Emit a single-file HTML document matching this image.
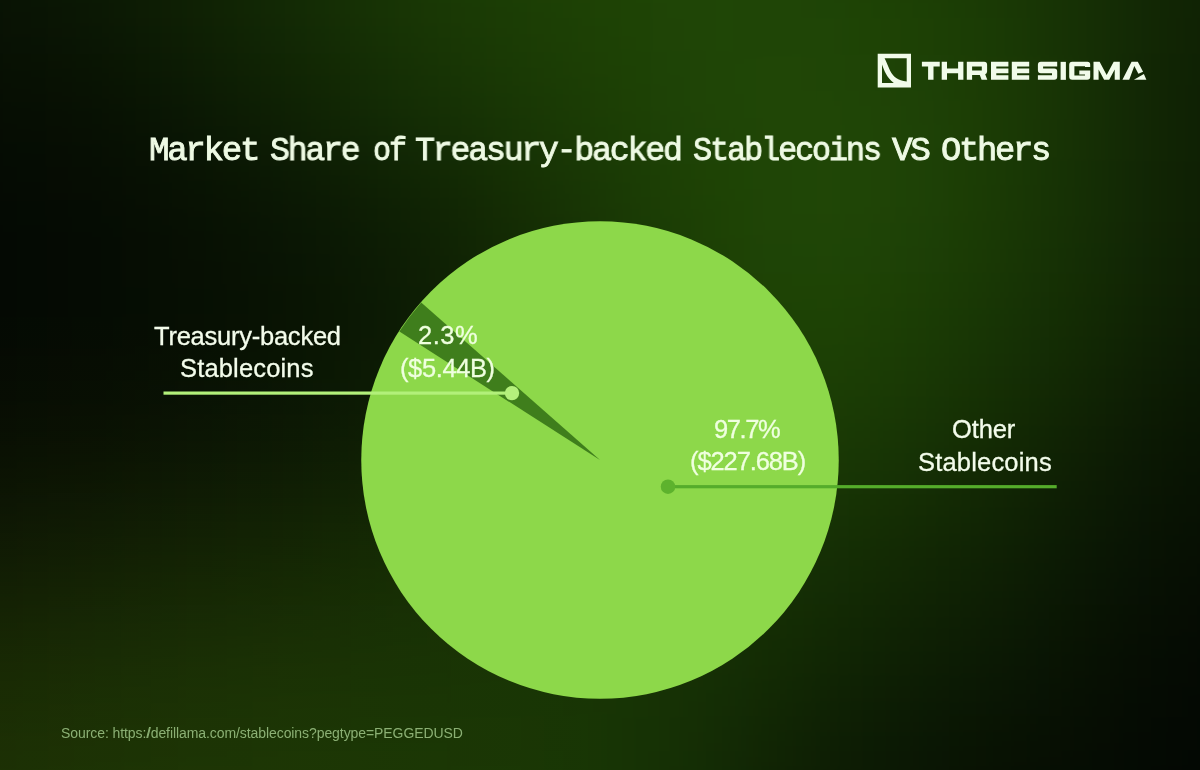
<!DOCTYPE html>
<html><head><meta charset="utf-8">
<style>
html,body{margin:0;padding:0;}
body{width:1200px;height:770px;overflow:hidden;position:relative;background:#050c05;font-family:"Liberation Sans",sans-serif;}
#bg{position:absolute;left:0;top:0;width:1200px;height:770px;background:#040804;}
#olive{position:absolute;left:0;top:0;width:1200px;height:770px;background:radial-gradient(ellipse 620px 460px at 0px 770px, rgba(70,34,0,0.13) 0%, rgba(70,34,0,0.08) 50%, rgba(70,34,0,0) 100%);}
svg{position:absolute;left:0;top:0;}
.t{position:absolute;white-space:nowrap;will-change:transform;}
.tw{top:128.7px;font-family:"Liberation Mono",monospace;font-size:33.8px;line-height:44px;color:#eefae4;transform-origin:0 0;font-weight:normal;-webkit-text-stroke:0.9px #eefae4;letter-spacing:-2.3px;}
.lab{font-size:25.5px;line-height:32.6px;color:#f3fceb;-webkit-text-stroke:0.3px #f3fceb;}
.val{font-size:25.5px;line-height:32.6px;color:#efffdf;-webkit-text-stroke:0.3px #efffdf;}
#src{left:61px;top:724.1px;font-size:14px;line-height:18px;color:#8bb074;letter-spacing:-0.08px;}
</style></head><body>
<div id="bg"></div>
<svg id="bgsvg" width="1200" height="770" viewBox="0 0 1200 770" style="position:absolute;left:0;top:0"><defs><filter id="bl" x="-20%" y="-20%" width="140%" height="140%" color-interpolation-filters="sRGB"><feGaussianBlur stdDeviation="50 55"/></filter></defs><g filter="url(#bl)"><rect x="-450.5" y="-465.5" width="401" height="411" fill="rgb(9,19,4)"/><rect x="-50.5" y="-465.5" width="101" height="411" fill="rgb(9,19,4)"/><rect x="49.5" y="-465.5" width="101" height="411" fill="rgb(12,26,4)"/><rect x="149.5" y="-465.5" width="101" height="411" fill="rgb(16,35,4)"/><rect x="249.5" y="-465.5" width="101" height="411" fill="rgb(20,45,5)"/><rect x="349.5" y="-465.5" width="101" height="411" fill="rgb(25,55,5)"/><rect x="449.5" y="-465.5" width="101" height="411" fill="rgb(28,62,5)"/><rect x="549.5" y="-465.5" width="101" height="411" fill="rgb(30,67,5)"/><rect x="649.5" y="-465.5" width="101" height="411" fill="rgb(31,70,6)"/><rect x="749.5" y="-465.5" width="101" height="411" fill="rgb(31,69,6)"/><rect x="849.5" y="-465.5" width="101" height="411" fill="rgb(29,65,5)"/><rect x="949.5" y="-465.5" width="101" height="411" fill="rgb(26,58,5)"/><rect x="1049.5" y="-465.5" width="101" height="411" fill="rgb(21,46,5)"/><rect x="1149.5" y="-465.5" width="101" height="411" fill="rgb(15,33,4)"/><rect x="1249.5" y="-465.5" width="401" height="411" fill="rgb(15,33,4)"/><rect x="-450.5" y="-55.5" width="401" height="111" fill="rgb(9,19,4)"/><rect x="-50.5" y="-55.5" width="101" height="111" fill="rgb(9,19,4)"/><rect x="49.5" y="-55.5" width="101" height="111" fill="rgb(12,26,4)"/><rect x="149.5" y="-55.5" width="101" height="111" fill="rgb(16,35,4)"/><rect x="249.5" y="-55.5" width="101" height="111" fill="rgb(20,45,5)"/><rect x="349.5" y="-55.5" width="101" height="111" fill="rgb(25,55,5)"/><rect x="449.5" y="-55.5" width="101" height="111" fill="rgb(28,62,5)"/><rect x="549.5" y="-55.5" width="101" height="111" fill="rgb(30,67,5)"/><rect x="649.5" y="-55.5" width="101" height="111" fill="rgb(31,70,6)"/><rect x="749.5" y="-55.5" width="101" height="111" fill="rgb(31,69,6)"/><rect x="849.5" y="-55.5" width="101" height="111" fill="rgb(29,65,5)"/><rect x="949.5" y="-55.5" width="101" height="111" fill="rgb(26,58,5)"/><rect x="1049.5" y="-55.5" width="101" height="111" fill="rgb(21,46,5)"/><rect x="1149.5" y="-55.5" width="101" height="111" fill="rgb(15,33,4)"/><rect x="1249.5" y="-55.5" width="401" height="111" fill="rgb(15,33,4)"/><rect x="-450.5" y="54.5" width="401" height="111" fill="rgb(6,13,3)"/><rect x="-50.5" y="54.5" width="101" height="111" fill="rgb(6,13,3)"/><rect x="49.5" y="54.5" width="101" height="111" fill="rgb(7,16,3)"/><rect x="149.5" y="54.5" width="101" height="111" fill="rgb(11,25,4)"/><rect x="249.5" y="54.5" width="101" height="111" fill="rgb(15,34,4)"/><rect x="349.5" y="54.5" width="101" height="111" fill="rgb(20,45,5)"/><rect x="449.5" y="54.5" width="101" height="111" fill="rgb(24,54,5)"/><rect x="549.5" y="54.5" width="101" height="111" fill="rgb(28,62,5)"/><rect x="649.5" y="54.5" width="101" height="111" fill="rgb(31,69,6)"/><rect x="749.5" y="54.5" width="101" height="111" fill="rgb(32,71,6)"/><rect x="849.5" y="54.5" width="101" height="111" fill="rgb(31,68,6)"/><rect x="949.5" y="54.5" width="101" height="111" fill="rgb(27,60,5)"/><rect x="1049.5" y="54.5" width="101" height="111" fill="rgb(21,46,5)"/><rect x="1149.5" y="54.5" width="101" height="111" fill="rgb(14,31,4)"/><rect x="1249.5" y="54.5" width="401" height="111" fill="rgb(14,31,4)"/><rect x="-450.5" y="164.5" width="401" height="111" fill="rgb(4,9,3)"/><rect x="-50.5" y="164.5" width="101" height="111" fill="rgb(4,9,3)"/><rect x="49.5" y="164.5" width="101" height="111" fill="rgb(5,11,3)"/><rect x="149.5" y="164.5" width="101" height="111" fill="rgb(7,16,3)"/><rect x="249.5" y="164.5" width="101" height="111" fill="rgb(10,22,4)"/><rect x="349.5" y="164.5" width="101" height="111" fill="rgb(13,30,4)"/><rect x="449.5" y="164.5" width="101" height="111" fill="rgb(19,41,4)"/><rect x="549.5" y="164.5" width="101" height="111" fill="rgb(24,54,5)"/><rect x="649.5" y="164.5" width="101" height="111" fill="rgb(29,65,5)"/><rect x="749.5" y="164.5" width="101" height="111" fill="rgb(32,71,6)"/><rect x="849.5" y="164.5" width="101" height="111" fill="rgb(31,68,6)"/><rect x="949.5" y="164.5" width="101" height="111" fill="rgb(26,58,5)"/><rect x="1049.5" y="164.5" width="101" height="111" fill="rgb(20,45,5)"/><rect x="1149.5" y="164.5" width="101" height="111" fill="rgb(14,30,4)"/><rect x="1249.5" y="164.5" width="401" height="111" fill="rgb(14,30,4)"/><rect x="-450.5" y="274.5" width="401" height="111" fill="rgb(4,9,3)"/><rect x="-50.5" y="274.5" width="101" height="111" fill="rgb(4,9,3)"/><rect x="49.5" y="274.5" width="101" height="111" fill="rgb(5,11,3)"/><rect x="149.5" y="274.5" width="101" height="111" fill="rgb(6,14,3)"/><rect x="249.5" y="274.5" width="101" height="111" fill="rgb(8,19,3)"/><rect x="349.5" y="274.5" width="101" height="111" fill="rgb(12,26,4)"/><rect x="449.5" y="274.5" width="101" height="111" fill="rgb(17,38,4)"/><rect x="549.5" y="274.5" width="101" height="111" fill="rgb(24,53,5)"/><rect x="649.5" y="274.5" width="101" height="111" fill="rgb(28,62,5)"/><rect x="749.5" y="274.5" width="101" height="111" fill="rgb(30,68,5)"/><rect x="849.5" y="274.5" width="101" height="111" fill="rgb(28,63,5)"/><rect x="949.5" y="274.5" width="101" height="111" fill="rgb(23,52,5)"/><rect x="1049.5" y="274.5" width="101" height="111" fill="rgb(18,41,4)"/><rect x="1149.5" y="274.5" width="101" height="111" fill="rgb(12,26,4)"/><rect x="1249.5" y="274.5" width="401" height="111" fill="rgb(12,26,4)"/><rect x="-450.5" y="384.5" width="401" height="111" fill="rgb(6,14,3)"/><rect x="-50.5" y="384.5" width="101" height="111" fill="rgb(6,14,3)"/><rect x="49.5" y="384.5" width="101" height="111" fill="rgb(7,16,3)"/><rect x="149.5" y="384.5" width="101" height="111" fill="rgb(9,20,4)"/><rect x="249.5" y="384.5" width="101" height="111" fill="rgb(11,24,4)"/><rect x="349.5" y="384.5" width="101" height="111" fill="rgb(14,30,4)"/><rect x="449.5" y="384.5" width="101" height="111" fill="rgb(19,42,4)"/><rect x="549.5" y="384.5" width="101" height="111" fill="rgb(24,54,5)"/><rect x="649.5" y="384.5" width="101" height="111" fill="rgb(27,60,5)"/><rect x="749.5" y="384.5" width="101" height="111" fill="rgb(27,60,5)"/><rect x="849.5" y="384.5" width="101" height="111" fill="rgb(24,54,5)"/><rect x="949.5" y="384.5" width="101" height="111" fill="rgb(19,42,4)"/><rect x="1049.5" y="384.5" width="101" height="111" fill="rgb(14,30,4)"/><rect x="1149.5" y="384.5" width="101" height="111" fill="rgb(8,19,3)"/><rect x="1249.5" y="384.5" width="401" height="111" fill="rgb(8,19,3)"/><rect x="-450.5" y="494.5" width="401" height="111" fill="rgb(11,25,4)"/><rect x="-50.5" y="494.5" width="101" height="111" fill="rgb(11,25,4)"/><rect x="49.5" y="494.5" width="101" height="111" fill="rgb(13,30,4)"/><rect x="149.5" y="494.5" width="101" height="111" fill="rgb(15,34,4)"/><rect x="249.5" y="494.5" width="101" height="111" fill="rgb(17,38,4)"/><rect x="349.5" y="494.5" width="101" height="111" fill="rgb(20,44,4)"/><rect x="449.5" y="494.5" width="101" height="111" fill="rgb(22,49,5)"/><rect x="549.5" y="494.5" width="101" height="111" fill="rgb(24,54,5)"/><rect x="649.5" y="494.5" width="101" height="111" fill="rgb(24,54,5)"/><rect x="749.5" y="494.5" width="101" height="111" fill="rgb(22,49,5)"/><rect x="849.5" y="494.5" width="101" height="111" fill="rgb(19,42,4)"/><rect x="949.5" y="494.5" width="101" height="111" fill="rgb(15,33,4)"/><rect x="1049.5" y="494.5" width="101" height="111" fill="rgb(10,23,4)"/><rect x="1149.5" y="494.5" width="101" height="111" fill="rgb(6,14,3)"/><rect x="1249.5" y="494.5" width="401" height="111" fill="rgb(6,14,3)"/><rect x="-450.5" y="604.5" width="401" height="111" fill="rgb(19,41,4)"/><rect x="-50.5" y="604.5" width="101" height="111" fill="rgb(19,41,4)"/><rect x="49.5" y="604.5" width="101" height="111" fill="rgb(20,46,5)"/><rect x="149.5" y="604.5" width="101" height="111" fill="rgb(22,49,5)"/><rect x="249.5" y="604.5" width="101" height="111" fill="rgb(23,51,5)"/><rect x="349.5" y="604.5" width="101" height="111" fill="rgb(23,52,5)"/><rect x="449.5" y="604.5" width="101" height="111" fill="rgb(24,53,5)"/><rect x="549.5" y="604.5" width="101" height="111" fill="rgb(24,53,5)"/><rect x="649.5" y="604.5" width="101" height="111" fill="rgb(22,49,5)"/><rect x="749.5" y="604.5" width="101" height="111" fill="rgb(18,41,4)"/><rect x="849.5" y="604.5" width="101" height="111" fill="rgb(14,32,4)"/><rect x="949.5" y="604.5" width="101" height="111" fill="rgb(11,25,4)"/><rect x="1049.5" y="604.5" width="101" height="111" fill="rgb(7,16,3)"/><rect x="1149.5" y="604.5" width="101" height="111" fill="rgb(4,9,3)"/><rect x="1249.5" y="604.5" width="401" height="111" fill="rgb(4,9,3)"/><rect x="-450.5" y="714.5" width="401" height="111" fill="rgb(23,52,5)"/><rect x="-50.5" y="714.5" width="101" height="111" fill="rgb(23,52,5)"/><rect x="49.5" y="714.5" width="101" height="111" fill="rgb(24,54,5)"/><rect x="149.5" y="714.5" width="101" height="111" fill="rgb(25,56,5)"/><rect x="249.5" y="714.5" width="101" height="111" fill="rgb(25,57,5)"/><rect x="349.5" y="714.5" width="101" height="111" fill="rgb(25,57,5)"/><rect x="449.5" y="714.5" width="101" height="111" fill="rgb(25,56,5)"/><rect x="549.5" y="714.5" width="101" height="111" fill="rgb(24,54,5)"/><rect x="649.5" y="714.5" width="101" height="111" fill="rgb(20,45,5)"/><rect x="749.5" y="714.5" width="101" height="111" fill="rgb(14,31,4)"/><rect x="849.5" y="714.5" width="101" height="111" fill="rgb(10,22,4)"/><rect x="949.5" y="714.5" width="101" height="111" fill="rgb(7,16,3)"/><rect x="1049.5" y="714.5" width="101" height="111" fill="rgb(5,11,3)"/><rect x="1149.5" y="714.5" width="101" height="111" fill="rgb(3,7,3)"/><rect x="1249.5" y="714.5" width="401" height="111" fill="rgb(3,7,3)"/><rect x="-450.5" y="824.5" width="401" height="411" fill="rgb(23,52,5)"/><rect x="-50.5" y="824.5" width="101" height="411" fill="rgb(23,52,5)"/><rect x="49.5" y="824.5" width="101" height="411" fill="rgb(24,54,5)"/><rect x="149.5" y="824.5" width="101" height="411" fill="rgb(25,56,5)"/><rect x="249.5" y="824.5" width="101" height="411" fill="rgb(25,57,5)"/><rect x="349.5" y="824.5" width="101" height="411" fill="rgb(25,57,5)"/><rect x="449.5" y="824.5" width="101" height="411" fill="rgb(25,56,5)"/><rect x="549.5" y="824.5" width="101" height="411" fill="rgb(24,54,5)"/><rect x="649.5" y="824.5" width="101" height="411" fill="rgb(20,45,5)"/><rect x="749.5" y="824.5" width="101" height="411" fill="rgb(14,31,4)"/><rect x="849.5" y="824.5" width="101" height="411" fill="rgb(10,22,4)"/><rect x="949.5" y="824.5" width="101" height="411" fill="rgb(7,16,3)"/><rect x="1049.5" y="824.5" width="101" height="411" fill="rgb(5,11,3)"/><rect x="1149.5" y="824.5" width="101" height="411" fill="rgb(3,7,3)"/><rect x="1249.5" y="824.5" width="401" height="411" fill="rgb(3,7,3)"/></g></svg>
<div id="olive"></div>
<svg width="1200" height="770" viewBox="0 0 1200 770">
<g id="logo" fill="#f1fbea">
<path fill-rule="evenodd" d="M877.7 53.8 H911 V87.4 H877.7 Z M884.6 58.2 H906.7 V81.5 C898 80.6 893 77 889.8 70 C888 66 886.4 61.8 884.6 58.2 Z M882 64.6 C884.2 70.5 886.5 77.5 893.8 83 H882 Z"/>
<path d="M921.9 61.85 H939.75 V66.5 H933.5 V79.85 H928.1 V66.5 H921.9 Z"/>
<path d="M941.7 61.85 H947 V68.5 H958.1 V61.85 H963.4 V79.85 H958.1 V73.2 H947 V79.85 H941.7 Z"/>
<path fill-rule="evenodd" d="M966.8 61.85 H984.1 Q987.1 61.85 987.1 64.85 V71.4 Q987.1 73.6 985.2 74.3 L987.3 79.85 H981.6 L979.8 74.9 H972.1 V79.85 H966.8 Z M972.1 66.4 H981.8 V70.6 H972.1 Z"/>
<path d="M991 61.85 H1008.4 V66.5 H996.3 V68.5 H1008.4 V73.2 H996.3 V75.2 H1008.4 V79.85 H991 Z"/>
<path d="M1011.8 61.85 H1029.2 V66.5 H1017.1 V68.5 H1029.2 V73.2 H1017.1 V75.2 H1029.2 V79.85 H1011.8 Z"/>
<path d="M1040.9 61.85 H1057.2 V66.5 H1043.1 V68.5 H1054.2 Q1057.2 68.5 1057.2 71.5 V76.85 Q1057.2 79.85 1054.2 79.85 H1037.9 V75.2 H1052 V73.2 H1040.9 Q1037.9 73.2 1037.9 70.2 V64.85 Q1037.9 61.85 1040.9 61.85 Z"/>
<path d="M1060.6 61.85 H1065.9 V79.85 H1060.6 Z"/>
<path d="M1072.2 61.85 H1087.4 Q1090.2 61.85 1090.2 64.5 V67 H1085 V66.3 H1074.4 V75.6 H1085 V74.4 H1079.3 V70.5 H1090.2 V76.85 Q1090.2 79.85 1087.2 79.85 H1072.2 Q1069.2 79.85 1069.2 76.85 V64.85 Q1069.2 61.85 1072.2 61.85 Z"/>
<path d="M1093.5 61.85 H1099.6 L1106.65 75 L1113.7 61.85 H1119.8 V79.85 H1114.7 V69.6 L1109.2 79.85 H1104.1 L1098.6 69.6 V79.85 H1093.5 Z"/>
<path d="M1122.43 79.76 L1131.58 61.84 H1137.81 L1143.07 71.78 L1138.4 73.72 L1134.31 65.93 L1129.24 79.76 Z"/>
<path d="M1133.92 79.76 L1143.85 74.11 L1146.38 79.76 Z"/>
</g>
<circle cx="600" cy="460" r="238.75" fill="#8dd84a"/>
<path d="M600 460 L399.4 331.6 A239.5 239.5 0 0 1 421.2 302.4 Z" fill="#3f7e1c"/>
<rect x="163.5" y="391.5" width="349" height="3.2" fill="#b2f07a"/>
<circle cx="512" cy="393.1" r="7.2" fill="#b4f07c"/>
<rect x="668" y="485.1" width="388.7" height="3.2" fill="#55ac2b"/>
<circle cx="668" cy="486.7" r="7.25" fill="#5db22d"/>
</svg>
<div class="t tw" id="w0" style="left:149.36px;transform:scaleX(1.0114);">Market</div>
<div class="t tw" id="w1" style="left:270.42px;transform:scaleX(0.9820);">Share</div>
<div class="t tw" id="w2" style="left:372.52px;transform:scaleX(0.8870);">of</div>
<div class="t tw" id="w3" style="left:415.42px;transform:scaleX(0.9849);">Treasury-backed</div>
<div class="t tw" id="w4" style="left:692.98px;transform:scaleX(0.9452);">Stablecoins</div>
<div class="t tw" id="w5" style="left:891.73px;transform:scaleX(1.0183);">VS</div>
<div class="t tw" id="w6" style="left:941.41px;transform:scaleX(0.9959);">Others</div>
<div class="t lab" id="l1" style="left:153.5px;top:319.5px;letter-spacing:-0.24px;">Treasury-backed</div>
<div class="t lab" id="l2" style="left:180.2px;top:352px;letter-spacing:0.16px;">Stablecoins</div>
<div class="t lab" id="r1" style="left:951.8px;top:413px;letter-spacing:-0.12px;">Other</div>
<div class="t lab" id="r2" style="left:917.6px;top:445.8px;letter-spacing:0.18px;">Stablecoins</div>
<div class="t val" id="v1" style="left:417.5px;top:319.4px;letter-spacing:0.48px;">2.3%</div>
<div class="t val" id="v2" style="left:400.4px;top:352.3px;letter-spacing:-0.39px;">($5.44B)</div>
<div class="t val" id="v3" style="left:714.2px;top:412.6px;letter-spacing:-1.4px;">97.7%</div>
<div class="t val" id="v4" style="left:689.7px;top:445.2px;letter-spacing:-1.1px;">($227.68B)</div>
<div class="t" id="src">Source: https:/<span style="margin-left:-3.2px">/</span>defillama.com/stablecoins?pegtype=PEGGEDUSD</div>
</body></html>
